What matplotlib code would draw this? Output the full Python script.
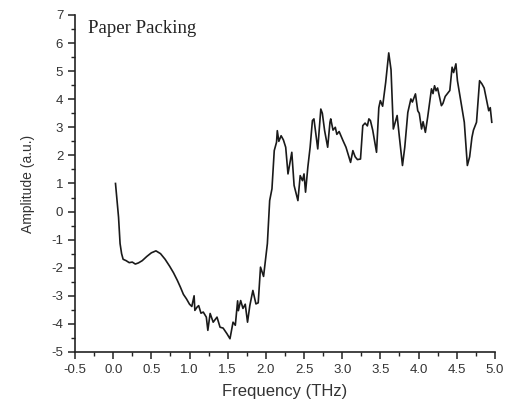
"""Paper Packing THz spectrum -> out.png"""
import matplotlib
matplotlib.use("Agg")
import matplotlib.pyplot as plt
from matplotlib.ticker import MultipleLocator

plt.rcParams["axes.unicode_minus"] = False

# Frequency (THz) and amplitude (a.u.)
freq = [0.03, 0.05, 0.07, 0.09, 0.11, 0.13, 0.17, 0.21, 0.25, 0.29, 0.33, 0.38,
        0.44, 0.50, 0.56, 0.62, 0.68, 0.74, 0.79, 0.84, 0.88, 0.92, 0.96, 1.00,
        1.03, 1.06, 1.07, 1.10, 1.12, 1.15, 1.18, 1.22, 1.24, 1.27, 1.31, 1.36,
        1.40, 1.44, 1.49, 1.53, 1.57, 1.60, 1.63, 1.64, 1.67, 1.70, 1.73, 1.76,
        1.79, 1.83, 1.87, 1.90, 1.93, 1.97, 2.02, 2.05, 2.08, 2.11, 2.14, 2.15,
        2.17, 2.20, 2.23, 2.26, 2.29, 2.34, 2.37, 2.42, 2.45, 2.48, 2.50, 2.52,
        2.55, 2.58, 2.61, 2.63, 2.68, 2.72, 2.74, 2.77, 2.81, 2.84, 2.85, 2.88,
        2.91, 2.93, 2.96, 3.01, 3.05, 3.11, 3.14, 3.17, 3.20, 3.24, 3.27, 3.30,
        3.33, 3.35, 3.37, 3.40, 3.45, 3.48, 3.50, 3.53, 3.57, 3.61, 3.64, 3.67,
        3.72, 3.75, 3.79, 3.82, 3.86, 3.90, 3.92, 3.96, 3.99, 4.01, 4.04, 4.06,
        4.09, 4.12, 4.17, 4.19, 4.21, 4.23, 4.25, 4.30, 4.32, 4.35, 4.41, 4.44,
        4.46, 4.49, 4.51, 4.56, 4.60, 4.64, 4.67, 4.70, 4.72, 4.76, 4.80, 4.83,
        4.86, 4.88, 4.92, 4.94, 4.96]
amp = [1.00, 0.40, -0.20, -1.14, -1.50, -1.70, -1.75, -1.82, -1.80, -1.87, -1.83, -1.75,
       -1.60, -1.47, -1.40, -1.50, -1.70, -1.95, -2.18, -2.45, -2.69, -2.95, -3.11, -3.30,
       -3.38, -3.00, -3.52, -3.40, -3.35, -3.62, -3.58, -3.76, -4.23, -3.63, -3.94, -3.76,
       -4.12, -4.15, -4.35, -4.53, -3.94, -4.05, -3.18, -3.53, -3.17, -3.45, -3.30, -3.94,
       -3.35, -2.81, -3.29, -3.25, -1.98, -2.31, -1.14, 0.39, 0.81, 2.17, 2.47, 2.88,
       2.50, 2.70, 2.55, 2.29, 1.34, 2.11, 0.93, 0.39, 1.28, 1.10, 1.34, 0.69,
       1.58, 2.29, 3.24, 3.30, 2.23, 3.65, 3.50, 2.88, 2.29, 3.18, 3.30, 2.90,
       3.00, 2.75, 2.85, 2.53, 2.29, 1.75, 2.17, 1.95, 1.85, 1.87, 3.06, 3.15,
       3.05, 3.30, 3.24, 2.90, 2.11, 3.70, 3.95, 3.75, 4.60, 5.65, 5.05, 2.94,
       3.42, 2.64, 1.64, 2.29, 3.53, 4.01, 3.90, 4.19, 3.59, 3.50, 2.94, 3.20,
       2.82, 3.36, 4.37, 4.20, 4.48, 4.30, 4.40, 3.77, 3.85, 4.10, 4.31, 5.14,
       4.95, 5.26, 4.66, 3.83, 3.18, 1.64, 1.95, 2.64, 2.90, 3.18, 4.66, 4.55,
       4.40, 4.13, 3.59, 3.70, 3.18]

TICK_C = "#333333"

fig = plt.figure(figsize=(5.07, 4.05), dpi=100)
ax = fig.add_axes([0.148, 0.131, 0.828, 0.832])
ax.plot(freq, amp, color="#1a1a1a", lw=1.2)

ax.set_xlim(-0.5, 5.0)
ax.set_ylim(-5, 7)
ax.xaxis.set_major_locator(MultipleLocator(0.5))
ax.xaxis.set_minor_locator(MultipleLocator(0.25))
ax.yaxis.set_major_locator(MultipleLocator(1))
ax.yaxis.set_minor_locator(MultipleLocator(0.5))
for s in ("top", "right"):
    ax.spines[s].set_visible(False)
for s in ("left", "bottom"):
    ax.spines[s].set_linewidth(1.2)
    ax.spines[s].set_color("#222222")
ax.tick_params(which="major", length=5, width=1.1, colors="#222222",
               labelsize=9.5, labelcolor=TICK_C)
ax.tick_params(which="minor", length=3, width=1.0, colors="#222222")
for lab in ax.get_xticklabels() + ax.get_yticklabels():
    lab.set_family("Liberation Sans")

ax.set_xlabel("Frequency (THz)", family="Liberation Sans", fontsize=12,
              color=TICK_C, labelpad=6)
ax.set_ylabel("Amplitude (a.u.)", family="Liberation Sans", fontsize=10,
              color=TICK_C, labelpad=12)
ax.text(0.03, 0.985, "Paper Packing", transform=ax.transAxes, family="Liberation Serif",
        fontsize=13.5, color="#222222", ha="left", va="top")

fig.savefig("out.png", dpi=100)
